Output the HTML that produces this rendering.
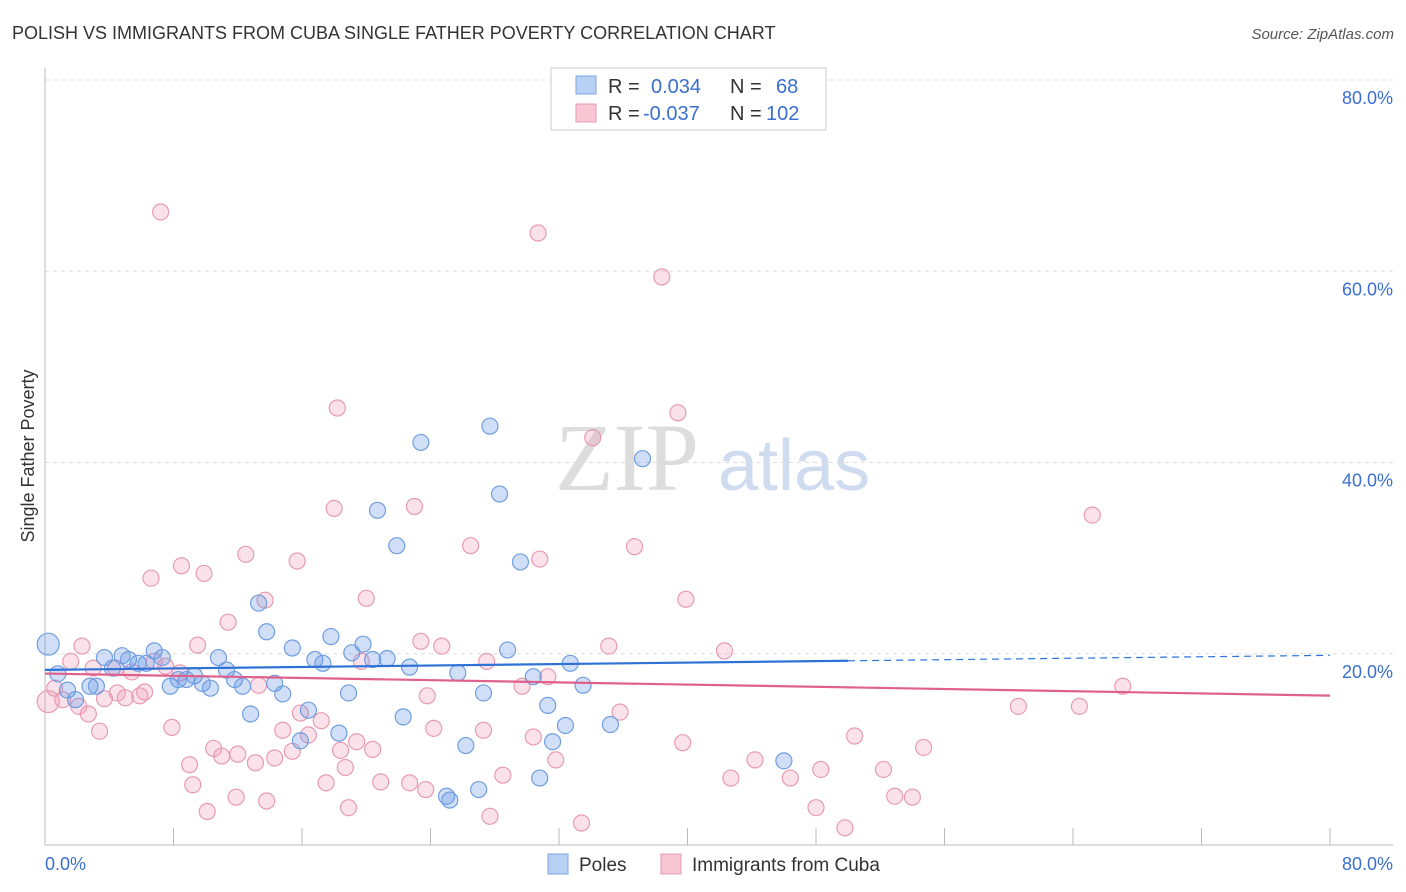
<!DOCTYPE html>
<html><head><meta charset="utf-8"><style>
body{margin:0;background:#fff;font-family:"Liberation Sans",sans-serif}
svg{display:block}
</style></head><body>
<svg id="chart" width="1406" height="892" viewBox="0 0 1406 892" xmlns="http://www.w3.org/2000/svg" font-family="Liberation Sans, sans-serif">
<text x="12" y="39" font-size="18" fill="#333">POLISH VS IMMIGRANTS FROM CUBA SINGLE FATHER POVERTY CORRELATION CHART</text>
<text x="1394" y="39" font-size="15" fill="#555" text-anchor="end" font-style="italic">Source: ZipAtlas.com</text>
<text x="555" y="490" font-size="96" fill="#ddd" font-family="Liberation Serif, serif">ZIP</text>
<text x="718" y="490" font-size="72" fill="#cfdcf0">atlas</text>
<g id="grid"></g>
<g id="axes"></g>
<text transform="translate(34,456) rotate(-90)" font-size="18" fill="#333" text-anchor="middle">Single Father Poverty</text>
<g id="pts"></g>
<g id="trend"></g>
<g>
<rect x="551" y="68" width="275" height="62" fill="#fff" stroke="#ccc"/>
<rect x="576" y="76" width="20" height="18" fill="#b8d0f3" stroke="#7aa6e0"/>
<rect x="576" y="104" width="20" height="18" fill="#f8c6d5" stroke="#e89ab3"/>
<text x="608" y="93" font-size="20" fill="#333">R =</text>
<text x="651" y="93" font-size="20" fill="#3a6fd0">0.034</text>
<text x="730" y="93" font-size="20" fill="#333">N =</text>
<text x="776" y="93" font-size="20" fill="#3a6fd0">68</text>
<text x="608" y="120" font-size="20" fill="#333">R =</text>
<text x="643" y="120" font-size="20" fill="#3a6fd0">-0.037</text>
<text x="730" y="120" font-size="20" fill="#333">N =</text>
<text x="766" y="120" font-size="20" fill="#3a6fd0">102</text>
</g>
<g>
<rect x="548" y="854" width="20" height="20" fill="#b8d0f3" stroke="#7aa6e0"/>
<text x="579" y="871" font-size="19" fill="#333">Poles</text>
<rect x="661" y="854" width="20" height="20" fill="#f8c6d5" stroke="#e89ab3"/>
<text x="692" y="871" font-size="19" fill="#333">Immigrants from Cuba</text>
</g>
</svg>
<script>
const yTicks=[20,40,60,80];
const xTicks=[0,8,16,24,32,40,48,56,64,72,80];
const polesX=[0.2,0.8,1.4,1.9,2.8,3.2,3.7,4.2,4.8,5.2,5.8,6.3,6.8,7.3,7.8,8.3,8.8,9.3,9.8,10.3,10.8,11.3,11.8,12.3,12.8,13.3,13.8,14.3,14.8,15.4,15.9,16.4,16.8,17.3,17.8,18.3,18.9,19.1,19.8,20.4,20.7,21.3,21.9,22.3,22.7,23.4,25.0,25.2,25.7,26.2,27.0,27.3,27.7,28.3,28.8,29.6,30.4,30.8,31.3,31.6,32.4,32.7,33.5,35.2,37.2,46.0];
const polesY=[21.0,17.9,16.2,15.2,16.6,16.6,19.6,18.5,19.8,19.4,19.0,19.0,20.3,19.6,16.6,17.3,17.3,17.7,16.9,16.4,19.6,18.3,17.3,16.6,13.7,25.3,22.3,16.9,15.8,20.6,10.9,14.1,19.4,19.0,21.8,11.7,15.9,20.1,21.0,19.4,35.0,19.5,31.3,13.4,18.6,42.1,5.1,4.7,18.0,10.4,5.8,15.9,43.8,36.7,20.4,29.6,17.6,7.0,14.6,10.8,12.5,19.0,16.7,12.6,40.4,8.8];
const cubaX=[0.2,0.6,1.1,1.6,2.1,2.3,2.7,3.0,3.4,3.7,4.4,4.5,5.0,5.4,5.9,6.2,6.6,6.8,7.2,7.5,7.9,8.4,8.5,9.0,9.2,9.5,9.9,10.1,10.5,11.0,11.4,11.9,12.0,12.5,13.1,13.3,13.7,13.8,14.3,14.8,15.4,15.7,15.9,16.4,17.2,17.5,18.0,18.2,18.4,18.7,18.9,19.4,19.7,20.0,20.4,20.9,22.7,23.0,23.4,23.7,23.8,24.2,24.7,26.5,27.3,27.5,27.7,28.5,29.7,30.4,30.7,30.8,31.3,31.8,33.4,34.1,35.1,35.8,36.7,38.4,39.4,39.7,39.9,42.3,42.7,44.2,46.4,48.0,48.3,49.8,50.4,52.2,52.9,54.0,54.7,60.6,64.4,65.2,67.1];
const cubaY=[15.0,16.4,15.2,19.2,14.5,20.8,13.7,18.5,11.9,15.3,18.5,15.9,15.4,18.1,15.6,16.0,27.9,19.2,66.2,18.7,12.3,18.0,29.2,8.4,6.3,20.9,28.4,3.5,10.1,9.3,23.3,5.0,9.5,30.4,8.6,16.7,25.6,4.6,9.1,12.0,9.8,29.7,13.8,11.5,13.0,6.5,35.2,45.7,9.9,8.1,3.9,10.8,19.2,25.8,10.0,6.6,6.5,35.4,21.3,5.8,15.6,12.2,20.8,31.3,12.0,19.2,3.0,7.3,16.6,11.3,64.0,29.9,17.6,8.9,2.3,42.6,20.8,13.9,31.2,59.4,45.2,10.7,25.7,20.3,7.0,8.9,7.0,3.9,7.9,1.8,11.4,7.9,5.1,5.0,10.2,14.5,14.5,34.5,16.6];
const largeP=[0], largeC=[0];
const NS="http://www.w3.org/2000/svg";
const X0=45,X1=1330,Y0=845,Y1=80;
const xs=v=>X0+(X1-X0)*v/80, ys=v=>Y0-(Y0-Y1)*v/80;
function mk(tag,attrs,parent){const e=document.createElementNS(NS,tag);for(const k in attrs)e.setAttribute(k,attrs[k]);parent.appendChild(e);return e;}
const grid=document.getElementById('grid'),axes=document.getElementById('axes'),pts=document.getElementById('pts'),trend=document.getElementById('trend');
yTicks.forEach(t=>{
 const l=mk('line',{x1:X0,x2:1393,y1:ys(t),y2:ys(t),stroke:'#ddd','stroke-dasharray':'4,4'},grid);
 
 
 const tx=mk('text',{x:1393,y:ys(t)+24,'font-size':18,fill:'#3a6fd0','text-anchor':'end'},grid);
 tx.textContent=t.toFixed(1)+'%';
 
 
});
const base=mk('line',{x1:X0,x2:1393,y1:Y0,y2:Y0,stroke:'#bbb'},axes);


const yl=mk('line',{x1:X0,x2:X0,y1:68,y2:Y0,stroke:'#bbb'},axes);


xTicks.forEach(t=>{
 const l=mk('line',{x1:xs(t),x2:xs(t),y1:828,y2:Y0,stroke:'#bbb'},axes);
 
 
});
const xl0=mk('text',{x:45,y:870,'font-size':18,fill:'#3a6fd0'},axes);xl0.textContent='0.0%';


const xl1=mk('text',{x:1393,y:870,'font-size':18,fill:'#3a6fd0','text-anchor':'end'},axes);xl1.textContent='80.0%';


function plot(X,Y,fill,stroke,name,large){
 X.forEach((v,i)=>{
  if(Y[i]===undefined)return;
  const c=mk('circle',{cx:xs(v),cy:ys(Y[i]),r:large.includes(i)?11:8,fill:fill,stroke:stroke,'stroke-width':1.2},pts);
  
  
 });
}
plot(cubaX,cubaY,'rgba(240,150,180,0.28)','#e89ab3','cuba',largeC);
plot(polesX,polesY,'rgba(100,150,230,0.3)','#6f9ee0','poles',largeP);
function fit(X,Y){const n=Math.min(X.length,Y.length);let mx=0,my=0;for(let i=0;i<n;i++){mx+=X[i];my+=Y[i]}mx/=n;my/=n;let a=0,b=0;for(let i=0;i<n;i++){a+=(X[i]-mx)*(Y[i]-my);b+=(X[i]-mx)*(X[i]-mx)}const s=a/b;return x=>my+s*(x-mx);}
const fp=fit(polesX,polesY),fc=fit(cubaX,cubaY);
const t1=mk('line',{x1:xs(0),y1:ys(fp(0)),x2:xs(50),y2:ys(fp(50)),stroke:'#2f72d6','stroke-width':2.2},trend);


const t2=mk('line',{x1:xs(50),y1:ys(fp(50)),x2:xs(80),y2:ys(fp(80)),stroke:'#2f72d6','stroke-width':1.2,'stroke-dasharray':'7,5'},trend);


const t3=mk('line',{x1:xs(0),y1:ys(fc(0)),x2:xs(80),y2:ys(fc(80)),stroke:'#e0608c','stroke-width':2.2},trend);


</script>
</body></html>
